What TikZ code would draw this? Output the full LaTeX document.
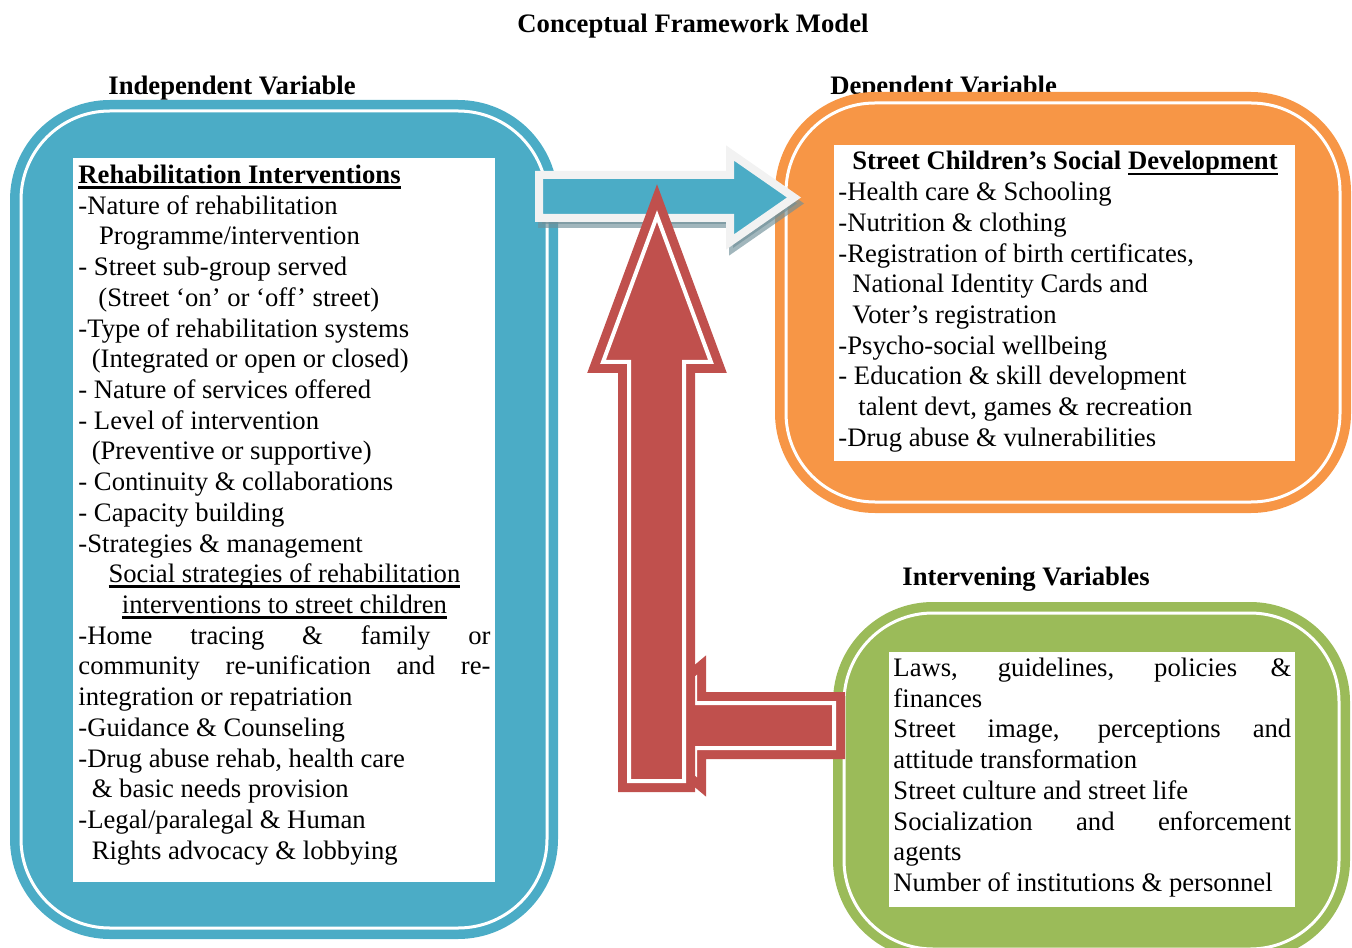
\documentclass[tikz,border=0pt]{standalone}
\usepackage{fontspec}
\setmainfont{Liberation Serif}
\definecolor{aqua}{HTML}{4BACC6}
\definecolor{orng}{HTML}{F79646}
\definecolor{grn}{HTML}{9BBB59}
\definecolor{rd}{HTML}{C0504D}
\definecolor{lgray}{HTML}{F2F2F2}
\definecolor{shadowc}{HTML}{6F8F98}
\newcommand\myul[1]{\leavevmode\setbox0=\hbox{#1}\rlap{\rule[-2.3pt]{\wd0}{1.1pt}}\box0}
\newcommand\txtfont{\fontsize{12pt}{13.82pt}\selectfont}
\begin{document}
\begin{tikzpicture}[x=0.45pt,y=-0.45pt,
  hdr/.style={font=\txtfont\bfseries, inner sep=0pt},
  body/.style={anchor=base west, inner sep=0pt, font=\txtfont},
  panel/.style={fill=#1, rounded corners=45pt},
  ring/.style={draw=white, line width=1.35pt, rounded corners=40pt},
  txtbox/.style={fill=white},
  bluearr/.style={fill=aqua, draw=lgray, line width=3.6pt, line join=miter},
  bluearrshadow/.style={fill=shadowc, draw=shadowc, line width=3.6pt, line join=miter, opacity=0.65},
  redarr/.style={fill=rd, draw=rd, double=white, line width=4.05pt, double distance=1.8pt, line join=miter}]
\path[use as bounding box] (0,0) rectangle (1352,948);
\clip (0,0) rectangle (1352,948);

% headings
\node[hdr, anchor=base] (title) at (693,33) {Conceptual Framework Model};
\node[hdr, anchor=base west] (indep) at (108,95) {Independent Variable};
\node[hdr, anchor=base west] (dep) at (830,95) {Dependent Variable};
\node[hdr, anchor=base west] (interv) at (902,585) {Intervening Variables};

% independent variable panel
\fill[panel=aqua] (10,100) rectangle (558,939);
\draw[ring] (21,111) rectangle (547,928);
\fill[txtbox] (73,158) rectangle (495,882);
\node[body] (indeptext) at (78,183.5) {\parbox[t]{185.4pt}{\txtfont\raggedright
\myul{\textbf{Rehabilitation Interventions}}\\
-Nature of rehabilitation\\
\hspace*{9.3pt}Programme/intervention\\
- Street sub-group served\\
\hspace*{9pt}(Street ‘on’ or ‘off’ street)\\
-Type of rehabilitation systems\\
\hspace*{6pt}(Integrated or open or closed)\\
- Nature of services offered\\
- Level of intervention\\
\hspace*{6pt}(Preventive or supportive)\\
- Continuity \& collaborations\\
- Capacity building\\
-Strategies \& management\\
\makebox[\linewidth]{\myul{Social strategies of rehabilitation}}\\
\makebox[\linewidth]{\myul{interventions to street children}}\\
\makebox[\linewidth][s]{-Home tracing \& family or}\\
\makebox[\linewidth][s]{community re-unification and re-}\\
integration or repatriation\\
-Guidance \& Counseling\\
-Drug abuse rehab, health care\\
\hspace*{6pt}\& basic needs provision\\
-Legal/paralegal \& Human\\
\hspace*{6pt}Rights advocacy \& lobbying}};

% dependent variable panel
\fill[panel=orng] (775,92) rectangle (1351,513);
\draw[ring] (786,103) rectangle (1340,502);
\fill[txtbox] (834,145) rectangle (1295,461);
\node[body] (deptext) at (838,170) {\parbox[t]{203.85pt}{\txtfont\raggedright
\makebox[\linewidth]{\textbf{Street Children’s Social \myul{Development}}}\\
-Health care \& Schooling\\
-Nutrition \& clothing\\
-Registration of birth certificates,\\
\hspace*{6.3pt}National Identity Cards and\\
\hspace*{6.3pt}Voter’s registration\\
-Psycho-social wellbeing\\
- Education \& skill development\\
\hspace*{9pt}talent devt, games \& recreation\\
-Drug abuse \& vulnerabilities}};

% intervening variables panel
\fill[panel=grn] (833,602) rectangle (1350,960);
\draw[ring] (844,613) rectangle (1339,949);
\fill[txtbox] (889,652) rectangle (1295,907);
\node[body] (intervtext) at (893,676.5) {\parbox[t]{179pt}{\txtfont\raggedright
\makebox[\linewidth][s]{Laws, guidelines, policies \&}\\
finances\\
\makebox[\linewidth][s]{Street image, perceptions and}\\
attitude transformation\\
Street culture and street life\\
\makebox[\linewidth][s]{Socialization and enforcement}\\
agents\\
Number of institutions \& personnel}};

% blue arrow (independent -> dependent)
\begin{scope}[shift={(3,6)}]
\path[bluearrshadow] (539,175) -- (730,175) -- (730,153) -- (794,197.5) -- (730,242) -- (730,218) -- (539,218) -- cycle;
\end{scope}
\path[bluearr] (539,175) -- (730,175) -- (730,153) -- (794,197.5) -- (730,242) -- (730,218) -- (539,218) -- cycle;

% red arrows (intervening)
\path[redarr] (639,726) -- (695,679) -- (695,703) -- (834,703) -- (834,748) -- (695,748) -- (695,773) -- cycle;
\path[redarr] (657,216) -- (711,362) -- (684,362) -- (684,781) -- (629,781) -- (629,362) -- (603,362) -- cycle;
\end{tikzpicture}
\end{document}
